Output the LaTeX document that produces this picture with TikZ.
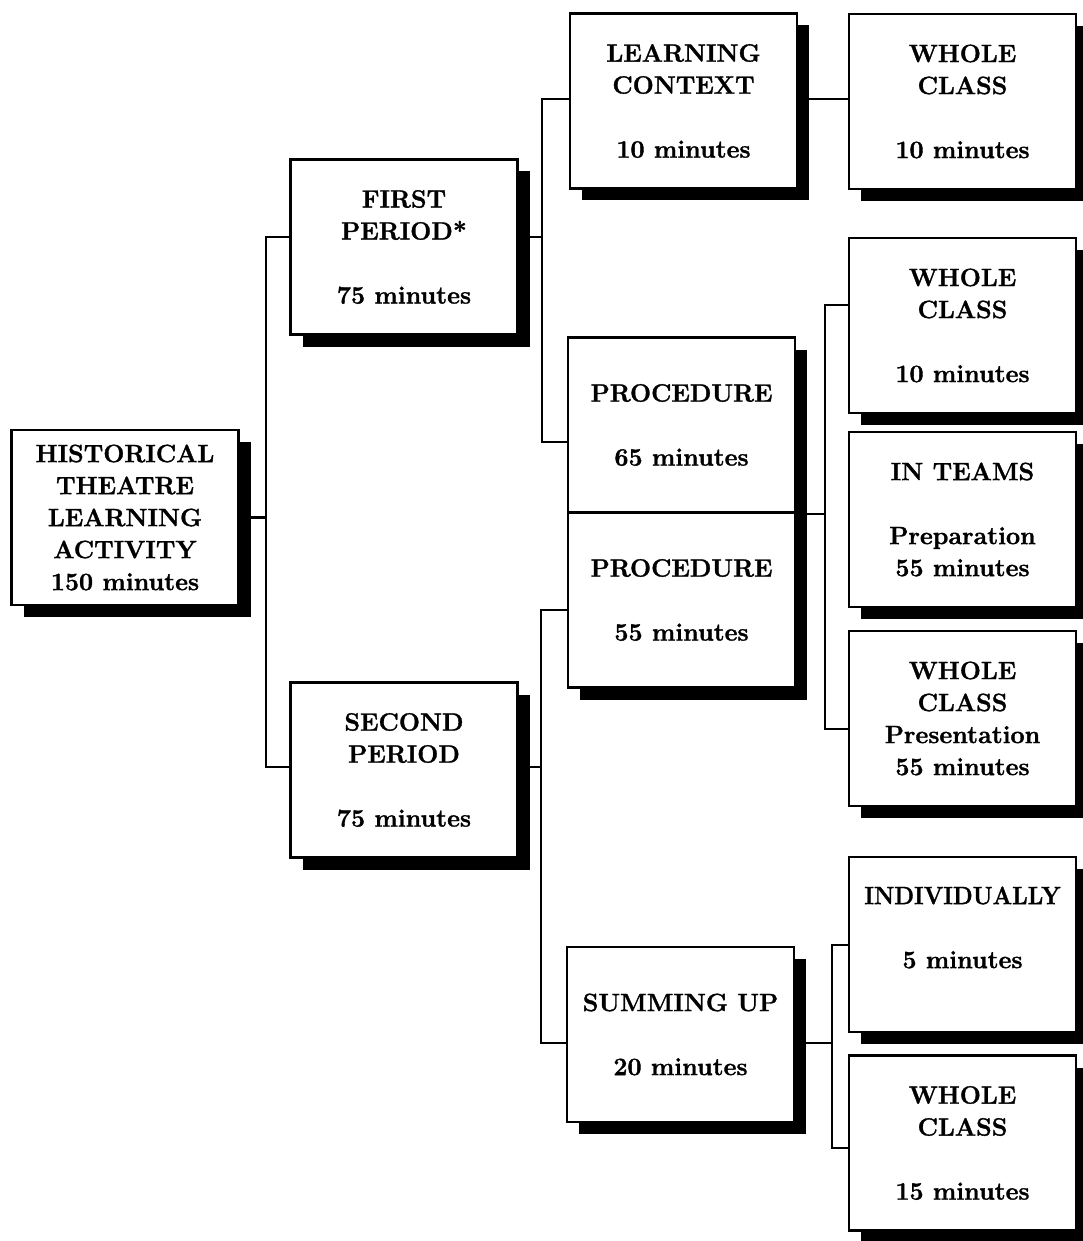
\documentclass[tikz,border=0pt]{standalone}
\usepackage{fontspec}
\setmainfont{Latin Modern Roman}[BoldFeatures={FakeBold=1.3}]
\usetikzlibrary{shadows}
\begin{document}
\begin{tikzpicture}[x=1pt,y=-1pt,
  box/.style={draw, line width=2.7pt, fill=white, minimum width=227pt, minimum height=175pt,
    align=center, inner sep=0pt, font=\fontsize{25}{32}\selectfont\bfseries,
    drop shadow={shadow xshift=12pt, shadow yshift=-12pt, fill=black, opacity=1}},
  txt/.style={align=center, inner sep=0pt, font=\fontsize{25}{32}\selectfont\bfseries},
  conn/.style={line width=2.7pt}]
\useasboundingbox (0,0) rectangle (1082,1241);
\fill[white] (0,0) rectangle (1082,1241);

\node[box] (root) at (125,517.5) {HISTORICAL\\THEATRE\\LEARNING\\ACTIVITY\\150 minutes};
\node[box] (first) at (404,247) {FIRST\\PERIOD*\\[32pt]75 minutes};
\node[box] (second) at (404,770) {SECOND\\PERIOD\\[32pt]75 minutes};
\node[box] (lc) at (683.5,101) {LEARNING\\CONTEXT\\[32pt]10 minutes};
\node[box] (p1) at (681.5,425) {PROCEDURE\\[32pt]65 minutes};
\node[box] (p2) at (681.5,600) {PROCEDURE\\[32pt]55 minutes};
\node[box] (su) at (680.5,1034.5) {SUMMING UP\\[32pt]20 minutes};
\node[box] (wc1) at (962.5,101.5) {WHOLE\\CLASS\\[32pt]10 minutes};
\node[box] (wc2) at (962.5,325.5) {WHOLE\\CLASS\\[32pt]10 minutes};
\node[box] (it) at (962.5,519.5) {IN TEAMS\\[32pt]Preparation\\55 minutes};
\node[box] (wc3) at (962.5,718.5) {WHOLE\\CLASS\\Presentation\\55 minutes};
\node[box] (ind) at (962.5,944.5) {};
\node[txt] (indt) at ([yshift=17pt]ind.center) {\scalebox{0.92}[1]{INDIVIDUALLY}\\[32pt]5 minutes};
\node[box] (wc4) at (962.5,1143) {WHOLE\\CLASS\\[32pt]15 minutes};

\coordinate (b1t) at (266,237);
\coordinate (b1b) at (266,767);
\coordinate (b2t) at (542,99);
\coordinate (b2b) at (542,442);
\coordinate (b3t) at (541,610);
\coordinate (b3b) at (541,1043);
\coordinate (b4t) at (825,305);
\coordinate (b4b) at (825,729);
\coordinate (b5t) at (832,945);
\coordinate (b5b) at (832,1148);

\draw[conn] (root.east) -- (root.east -| b1t);
\draw[conn] (first.west |- b1t) -- (b1t) -- (b1b) -- (second.west |- b1b);

\draw[conn] (first.east |- b1t) -- (b2t |- b1t);
\draw[conn] (lc.west |- b2t) -- (b2t) -- (b2b) -- (p1.west |- b2b);
\draw[conn] (lc.east |- b2t) -- (wc1.west |- b2t);

\draw[conn] (second.east |- b1b) -- (b3t |- b1b);
\draw[conn] (p2.west |- b3t) -- (b3t) -- (b3b) -- (su.west |- b3b);

\draw[conn] (p1.south east) -- (b4t |- p1.south east);
\draw[conn] (wc2.west |- b4t) -- (b4t) -- (b4b) -- (wc3.west |- b4b);

\draw[conn] (su.east |- b3b) -- (b5t |- b3b);
\draw[conn] (ind.west |- b5t) -- (b5t) -- (b5b) -- (wc4.west |- b5b);
\end{tikzpicture}
\end{document}
